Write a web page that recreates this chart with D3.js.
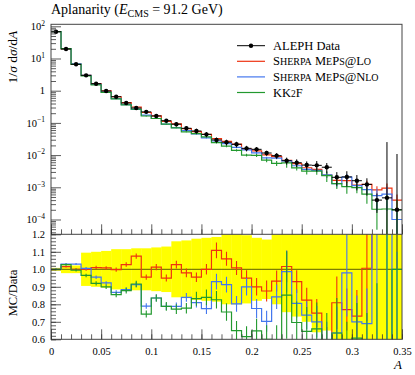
<!DOCTYPE html>
<html>
<head>
<meta charset="utf-8">
<script src="https://cdn.jsdelivr.net/npm/d3@7"></script>
<style>
body { margin: 0; background: #fff; }
svg text { font-family: "Liberation Serif", "DejaVu Serif", serif; fill: #000; }
</style>
</head>
<body>
<svg id="chart" width="415" height="375"></svg>
<script>
// bins of the aplanarity histogram
const binEdges = [0, 0.01, 0.02, 0.03, 0.04, 0.05, 0.06, 0.07, 0.08, 0.09, 0.1, 0.11, 0.12,
    0.13, 0.14, 0.15, 0.16, 0.17, 0.18, 0.19, 0.2, 0.21, 0.22, 0.23, 0.24, 0.25, 0.26, 0.27,
    0.28, 0.29, 0.3, 0.31, 0.32, 0.33, 0.34, 0.35];

// ALEPH data, 1/sigma dsigma/dA
const dataVals = [68, 19.7, 6.6, 3.0, 1.65, 0.98, 0.65, 0.415, 0.29, 0.22, 0.164, 0.117, 0.091,
    0.068, 0.056, 0.044, 0.0295, 0.025, 0.0216, 0.0162, 0.0151, 0.0116, 0.0096, 0.0067, 0.0058,
    0.0049, 0.0048, 0.0042, 0.00204, 0.0021, 0.0016, 0.00123, 0.0004, 0.00047, 0.0002];
// relative uncertainty of the data (yellow band)
const dataRelErr = [0.008, 0.022, 0.022, 0.095, 0.1, 0.105, 0.115, 0.115, 0.12, 0.12, 0.125, 0.13,
    0.16, 0.165, 0.175, 0.18, 0.185, 0.2, 0.2, 0.195, 0.18, 0.17, 0.2, 0.245, 0.27, 0.3, 0.36, 0.35,
    0.45, 0.5, 0.5, 0.55, 0.6, 53, 53];

// MC / Data ratios and their errors
const ratioLo = [1.0, 1.015, 1.0, 1.0, 1.01, 1.008, 0.998, 1.027, 1.075, 0.955, 1.012, 0.95, 1.027,
    0.98, 0.955, 1.0, 1.108, 1.06, 1.008, 0.95, 0.9, 0.876, 0.933, 1.016, 0.93, 0.824, 0.75, 0.57,
    0.809, 0.77, 0.732, 1.006, 2.07, 2.0, 2.0];
const ratioLoErr = [0.004, 0.005, 0.006, 0.008, 0.01, 0.01, 0.012, 0.013, 0.015, 0.015, 0.018, 0.02,
    0.022, 0.025, 0.027, 0.03, 0.045, 0.04, 0.04, 0.045, 0.05, 0.06, 0.06, 0.09, 0.065, 0.07, 0.08,
    0.1, 0.15, 0.12, 0.15, 0.3, 0.6, 0.8, 1.0];
const ratioNlo = [1.0, 1.03, 1.03, 1.005, 0.955, 0.922, 0.868, 0.884, 0.912, 0.79, 0.836, 0.788, 0.788,
    0.84, 0.81, 0.775, 0.93, 0.912, 0.803, 0.9, 0.776, 0.703, 0.843, 0.987, 0.805, 0.738, 0.7, 0.58,
    0.636, 0.98, 0.7, 0.69, 1.37, 1.3, 0.5];
const ratioNloErr = [0.004, 0.005, 0.006, 0.008, 0.01, 0.01, 0.012, 0.013, 0.015, 0.016, 0.018, 0.02,
    0.022, 0.025, 0.028, 0.03, 0.045, 0.045, 0.045, 0.05, 0.055, 0.06, 0.07, 0.12, 0.08, 0.08, 0.09,
    0.12, 0.15, 0.25, 0.15, 0.2, 0.9, 0.9, 0.6];
const ratioKk = [1.0, 1.027, 0.995, 0.965, 0.92, 0.9, 0.855, 0.878, 0.916, 0.744, 0.836, 0.788, 0.773,
    0.778, 0.832, 0.84, 0.826, 0.756, 0.65, 0.615, 0.648, 0.6, 0.58, 0.853, 0.696, 0.645, 0.66, 0.55,
    0.636, 0.5, 0.607, 0.5, 0.52, 0.45, 1.0];
const ratioKkErr = [0.005, 0.006, 0.008, 0.01, 0.012, 0.013, 0.015, 0.016, 0.018, 0.02, 0.022, 0.025,
    0.028, 0.03, 0.04, 0.045, 0.05, 0.05, 0.055, 0.06, 0.07, 0.08, 0.1, 0.25, 0.12, 0.14, 0.15, 0.2,
    0.2, 0.2, 0.2, 0.25, 0.4, 0.8, 1.0];

const xTickVals = [0, 0.05, 0.1, 0.15, 0.2, 0.25, 0.3, 0.35];
const xTickLabels = ['0', '0.05', '0.1', '0.15', '0.2', '0.25', '0.3', '0.35'];
const yTickPowers = [2, 1, 0, -1, -2, -3, -4];
const ratioTickVals = [0.6, 0.7, 0.8, 0.9, 1.0, 1.1, 1.2];
const ratioTickLabels = ['0.6', '0.7', '0.8', '0.9', '1.0', '1.1', '1.2'];

const mcSeries = [
    { name: 'Sherpa MePs@Lo', ratio: ratioLo, err: ratioLoErr, color: '#ee3311' },
    { name: 'Sherpa MePs@Nlo', ratio: ratioNlo, err: ratioNloErr, color: '#4477ee' },
    { name: 'KK2F', ratio: ratioKk, err: ratioKkErr, color: '#22992f' }
];

const serif = '"Liberation Serif", "DejaVu Serif", serif';
const svg = d3.select('#chart');
const pLeft = 51, pRight = 402, pTop = 24.3, pMid = 234.3, pBottom = 339.3;

const x = d3.scaleLinear().domain([0, 0.35]).range([pLeft, pRight]);
const yTop = d3.scaleLog().domain([Math.pow(10, -4.46), Math.pow(10, 2.062)]).range([pMid, pTop]);
const yRat = d3.scaleLinear().domain([0.6, 1.2]).range([pBottom, pMid]);

let defs = svg.append('defs');
defs.append('clipPath').attr('id', 'clipTop').append('rect')
    .attr('x', pLeft).attr('y', pTop).attr('width', pRight - pLeft).attr('height', pMid - pTop);
defs.append('clipPath').attr('id', 'clipRat').append('rect')
    .attr('x', pLeft).attr('y', pMid).attr('width', pRight - pLeft).attr('height', pBottom - pMid);

function stepPoints(vals) {
    let pts = [];
    vals.forEach((v, i) => {
        pts.push([binEdges[i], v]);
        pts.push([binEdges[i + 1], v]);
    });
    return pts;
}
let centers = dataVals.map((d, i) => (binEdges[i] + binEdges[i + 1]) / 2);
let yMin = yTop.domain()[0];

// ---------- upper panel ----------
let topG = svg.append('g').attr('clip-path', 'url(#clipTop)');
mcSeries.forEach(s => {
    let vals = dataVals.map((d, i) => d * s.ratio[i]);
    topG.append('path')
        .attr('d', d3.line().x(p => x(p[0])).y(p => yTop(p[1]))(stepPoints(vals)))
        .attr('fill', 'none')
        .attr('stroke', s.color)
        .attr('stroke-width', 1.2);
    topG.append('g').selectAll('line').data(vals).join('line')
        .attr('x1', (d, i) => x(centers[i]))
        .attr('x2', (d, i) => x(centers[i]))
        .attr('y1', (d, i) => yTop(d + dataVals[i] * s.err[i]))
        .attr('y2', (d, i) => yTop(Math.max(d - dataVals[i] * s.err[i], yMin)))
        .attr('stroke', s.color)
        .attr('stroke-width', 1.1);
});
let dataG = topG.append('g');
dataG.selectAll('line.xerr').data(dataVals).join('line').attr('class', 'xerr')
    .attr('x1', (d, i) => x(binEdges[i]))
    .attr('x2', (d, i) => x(binEdges[i + 1]))
    .attr('y1', d => yTop(d))
    .attr('y2', d => yTop(d))
    .attr('stroke', '#000');
dataG.selectAll('line.yerr').data(dataVals).join('line').attr('class', 'yerr')
    .attr('x1', (d, i) => x(centers[i]))
    .attr('x2', (d, i) => x(centers[i]))
    .attr('y1', (d, i) => yTop(d * (1 + dataRelErr[i])))
    .attr('y2', (d, i) => yTop(Math.max(d * (1 - dataRelErr[i]), yMin)))
    .attr('stroke', '#000');
dataG.selectAll('circle').data(dataVals).join('circle')
    .attr('cx', (d, i) => x(centers[i]))
    .attr('cy', d => yTop(d))
    .attr('r', 2.2)
    .attr('fill', '#000');

// ---------- ratio panel ----------
let ratG = svg.append('g').attr('clip-path', 'url(#clipRat)');
ratG.append('g').selectAll('rect').data(dataRelErr).join('rect')
    .attr('x', (d, i) => x(binEdges[i]))
    .attr('width', (d, i) => x(binEdges[i + 1]) - x(binEdges[i]) + 0.3)
    .attr('y', d => yRat(1 + d))
    .attr('height', d => yRat(1 - d) - yRat(1 + d))
    .attr('fill', '#ffff00');
ratG.append('line')
    .attr('x1', x(0)).attr('x2', x(0.35))
    .attr('y1', yRat(1)).attr('y2', yRat(1))
    .attr('stroke', '#000').attr('stroke-opacity', 0.5).attr('stroke-width', 1.2);
mcSeries.forEach(s => {
    ratG.append('path')
        .attr('d', d3.line().x(p => x(p[0])).y(p => yRat(p[1]))(stepPoints(s.ratio)))
        .attr('fill', 'none')
        .attr('stroke', s.color)
        .attr('stroke-width', 1.2);
    ratG.append('g').selectAll('line').data(s.ratio).join('line')
        .attr('x1', (d, i) => x(centers[i]))
        .attr('x2', (d, i) => x(centers[i]))
        .attr('y1', (d, i) => yRat(d + s.err[i]))
        .attr('y2', (d, i) => yRat(d - s.err[i]))
        .attr('stroke', s.color)
        .attr('stroke-width', 1.1);
});

// ---------- frames and axes ----------
svg.append('rect')
    .attr('x', pLeft).attr('y', pTop).attr('width', pRight - pLeft).attr('height', pBottom - pTop)
    .attr('fill', 'none').attr('stroke', '#444').attr('stroke-width', 1);
svg.append('line')
    .attr('x1', pLeft).attr('x2', pRight).attr('y1', pMid).attr('y2', pMid)
    .attr('stroke', '#444');

function styleAxis(g) {
    g.select('.domain').remove();
    g.attr('font-family', serif);
    g.selectAll('.tick line').attr('stroke', '#333').attr('stroke-width', 0.8);
    g.selectAll('.tick text').style('font-family', serif).style('font-size', '10.5px');
}

let xMinor = x.ticks(35);
[pMid, pBottom].forEach(yPos => {
    svg.append('g').attr('transform', `translate(0,${yPos})`)
        .call(d3.axisBottom(x).tickValues(xMinor).tickSize(-5).tickFormat(''))
        .call(styleAxis);
});
svg.append('g').attr('transform', `translate(0,${pMid})`)
    .call(d3.axisBottom(x).tickValues(xTickVals).tickSize(-10).tickFormat(''))
    .call(styleAxis);
svg.append('g').attr('transform', `translate(0,${pBottom})`)
    .call(d3.axisBottom(x).tickValues(xTickVals).tickSize(-10).tickPadding(8)
        .tickFormat((d, i) => xTickLabels[i]))
    .call(styleAxis);

// upper y axis
let yMinor = [];
for (let p = -5; p <= 2; p++) {
    for (let k = 2; k <= 9; k++) {
        let v = k * Math.pow(10, p);
        if (v > yTop.domain()[0] && v < yTop.domain()[1]) yMinor.push(v);
    }
}
svg.append('g').attr('transform', `translate(${pLeft},0)`)
    .call(d3.axisLeft(yTop).tickValues(yMinor).tickSize(-5).tickFormat(''))
    .call(styleAxis);
svg.append('g').attr('transform', `translate(${pLeft},0)`)
    .call(d3.axisLeft(yTop).tickValues(yTickPowers.map(p => Math.pow(10, p))).tickSize(-10).tickFormat(''))
    .call(styleAxis);
let yLab = svg.append('g').selectAll('text').data(yTickPowers).join('text')
    .attr('x', 45)
    .attr('y', p => yTop(Math.pow(10, p)) + 3.8)
    .attr('text-anchor', 'end')
    .style('font-size', '10.5px');
yLab.each(function (p) {
    let t = d3.select(this);
    if (p === 0) {
        t.text('1');
    } else {
        t.append('tspan').text('10');
        t.append('tspan').attr('dy', -4.5).style('font-size', '7.5px')
            .text(p < 0 ? '\u2212' + (-p) : String(p));
    }
});

// ratio y axis
let ratMinor = d3.range(30, 61, 1).map(k => k * 0.02);
svg.append('g').attr('transform', `translate(${pLeft},0)`)
    .call(d3.axisLeft(yRat).tickValues(ratMinor).tickSize(-5).tickFormat(''))
    .call(styleAxis);
svg.append('g').attr('transform', `translate(${pLeft},0)`)
    .call(d3.axisLeft(yRat).tickValues(ratioTickVals).tickSize(-10).tickPadding(6)
        .tickFormat((d, i) => ratioTickLabels[i]))
    .call(styleAxis);

// ---------- labels ----------
let title = svg.append('text').attr('x', 51).attr('y', 14).style('font-size', '14px');
title.append('tspan').text('Aplanarity (');
title.append('tspan').style('font-style', 'italic').text('E');
title.append('tspan').attr('dy', 2.5).style('font-size', '10px').text('CMS');
title.append('tspan').attr('dy', -2.5).text(' = 91.2 GeV)');

let yTitle = svg.append('text')
    .attr('transform', 'translate(17,57) rotate(-90)')
    .attr('text-anchor', 'middle')
    .style('font-size', '13.5px');
yTitle.append('tspan').text('1/');
yTitle.append('tspan').style('font-style', 'italic').text('\u03c3');
yTitle.append('tspan').text(' d');
yTitle.append('tspan').style('font-style', 'italic').text('\u03c3');
yTitle.append('tspan').text('/d');
yTitle.append('tspan').style('font-style', 'italic').text('A');

svg.append('text')
    .attr('transform', 'translate(17,293) rotate(-90)')
    .attr('text-anchor', 'middle')
    .style('font-size', '12.5px')
    .text('MC/Data');

svg.append('text')
    .attr('x', 402).attr('y', 369)
    .attr('text-anchor', 'end')
    .style('font-size', '13px').style('font-style', 'italic')
    .text('A');

// ---------- legend ----------
// hand-made small caps: lower-case letters become smaller capitals
function smallCaps(t, str, size) {
    let runs = str.match(/[a-z]+|[^a-z]+/g);
    runs.forEach(r => {
        let isLower = /[a-z]/.test(r);
        t.append('tspan')
            .style('font-size', (isLower ? size * 0.8 : size) + 'px')
            .text(r.toUpperCase());
    });
}
let legendRows = [{ name: 'ALEPH Data', color: '#000', dot: true }]
    .concat(mcSeries.map(s => ({ name: s.name, color: s.color, dot: false })));
let legend = svg.append('g').selectAll('g').data(legendRows).join('g')
    .attr('transform', (d, i) => `translate(237,${45.7 + i * 15.6})`);
legend.append('line')
    .attr('x1', 0).attr('x2', 28).attr('y1', 0).attr('y2', 0)
    .attr('stroke', d => d.color).attr('stroke-width', d => d.dot ? 1 : 1.2);
legend.filter(d => d.dot).append('circle')
    .attr('cx', 14).attr('cy', 0).attr('r', 2.2).attr('fill', '#000');
legend.append('text')
    .attr('x', 36).attr('y', 4)
    .style('font-size', '12.5px')
    .each(function (d) {
        let t = d3.select(this);
        if (d.name === 'KK2F') {
            t.append('tspan').text('KK');
            t.append('tspan').style('font-size', '9.5px').text('2');
            t.append('tspan').text('F');
        } else if (d.name.startsWith('Sherpa')) {
            smallCaps(t, d.name, 12.5);
        } else {
            t.text(d.name);
        }
    });
</script>
</body>
</html>
